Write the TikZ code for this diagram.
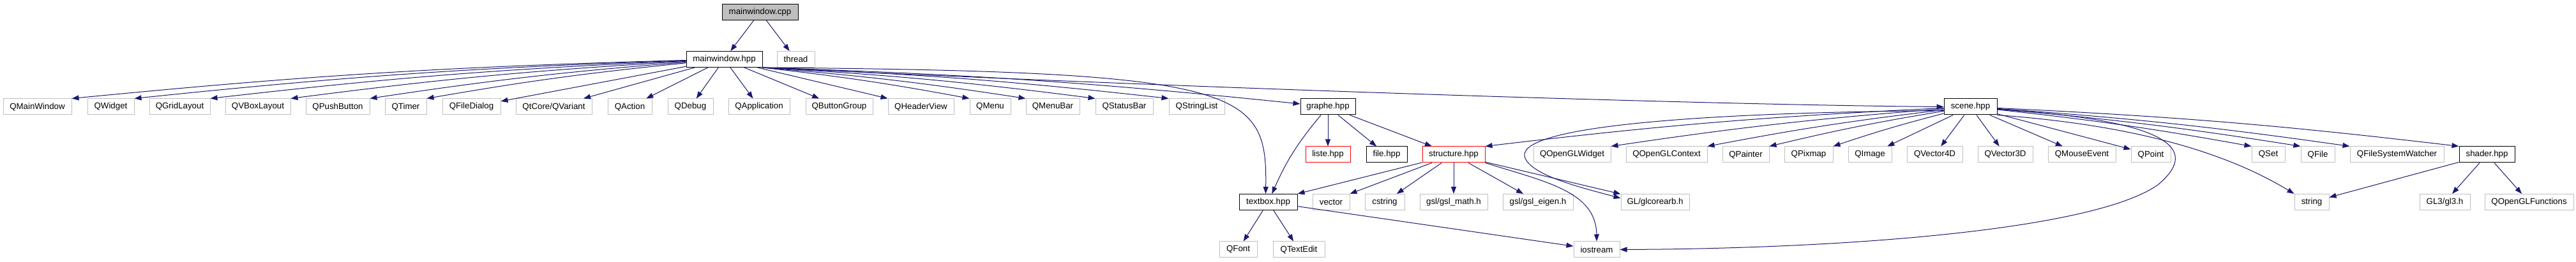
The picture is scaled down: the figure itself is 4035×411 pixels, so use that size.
\documentclass[tikz,border=0pt]{standalone}
\usepackage{fontspec}
\newfontfamily\depfont{Liberation Sans}
\usetikzlibrary{arrows.meta}
\definecolor{cblue}{HTML}{191970}
\definecolor{cgrey}{HTML}{BFBFBF}
\definecolor{cred}{HTML}{FF0000}
\tikzset{
  every picture/.style={font=\depfont\fontsize{13.3}{16}\selectfont, line width=1pt},
  hdr/.style={draw=#1, minimum height=25pt, inner sep=0pt},
  hdr/.default=black,
  ext/.style={hdr=cgrey},
  arrow/.style={-{Triangle[length=11pt, width=8pt]}, draw=cblue, line width=1pt},
}

\begin{document}
\begin{tikzpicture}[x=1pt, y=-1pt]
  \useasboundingbox (0,0) rectangle (4035,411);
  % top: the file itself and what it includes
  \node[hdr, fill=cgrey, minimum width=119pt] (mwcpp) at (1190.5,19) {mainwindow.cpp};
  \node[hdr, minimum width=119pt] (mwhpp) at (1134.5,93) {mainwindow.hpp};
  \node[ext, minimum width=59pt] (thread) at (1246.5,93) {thread};
  % second level
  \foreach \nm/\lab/\xl/\xr in {qmainwindow/QMainWindow/5/112, qwidget/QWidget/137/210,
      qgridlayout/QGridLayout/234/329, qvboxlayout/QVBoxLayout/353/455, qpushbutton/QPushButton/479/579,
      qtimer/QTimer/603/668, qfiledialog/QFileDialog/693/784, qvariant/{QtCore/QVariant}/808/927,
      qaction/QAction/952/1021, qdebug/QDebug/1046/1117, qapplication/QApplication/1141/1237,
      qbuttongroup/QButtonGroup/1262/1367, qheaderview/QHeaderView/1391/1494, qmenu/QMenu/1519/1583,
      qmenubar/QMenuBar/1607/1691, qstatusbar/QStatusBar/1716/1806, qstringlist/QStringList/1831/1918}
    \node[ext, minimum width={(\xr-\xl)*1pt}] (\nm) at ({(\xl+\xr)/2},167.5) {\lab};
  \node[hdr, minimum width=86pt] (graphe) at (2080,167.5) {graphe.hpp};
  \node[hdr, minimum width=83pt] (scene) at (3086.5,167.5) {scene.hpp};
  % third level
  \node[hdr=cred, minimum width=70pt] (liste) at (2080,242.5) {liste.hpp};
  \node[hdr, minimum width=64pt] (filehpp) at (2172,242.5) {file.hpp};
  \node[hdr=cred, minimum width=98pt] (structure) at (2277,242.5) {structure.hpp};
  \foreach \nm/\lab/\xl/\xr in {qopenglwidget/QOpenGLWidget/2402/2523, qopenglcontext/QOpenGLContext/2547/2674,
      qpainter/QPainter/2698/2771, qpixmap/QPixmap/2795/2871, qimage/QImage/2895/2963,
      qvector4d/QVector4D/2987/3074, qvector3d/QVector3D/3098/3184, qmouseevent/QMouseEvent/3208/3314,
      qpoint/QPoint/3338/3400, qset/QSet/3527/3579, qfile/QFile/3604/3657,
      qfswatcher/QFileSystemWatcher/3681/3828}
    \node[ext, minimum width={(\xr-\xl)*1pt}] (\nm) at ({(\xl+\xr)/2},242.5) {\lab};
  \node[hdr, minimum width=87pt] (shader) at (3895.5,242.5) {shader.hpp};
  % fourth level
  \node[hdr, minimum width=91pt] (textbox) at (1986.5,317) {textbox.hpp};
  \foreach \nm/\lab/\xl/\xr in {vector/vector/2056/2114, cstring/cstring/2138/2200,
      gslmath/{gsl/gsl\_math.h}/2224/2330, gsleigen/{gsl/gsl\_eigen.h}/2354/2464,
      glcorearb/{GL/glcorearb.h}/2539/2646, string/string/3594/3648, gl3/{GL3/gl3.h}/3790/3869,
      qopenglfunctions/QOpenGLFunctions/3892/4031}
    \node[ext, minimum width={(\xr-\xl)*1pt}] (\nm) at ({(\xl+\xr)/2},317) {\lab};
  % bottom
  \foreach \nm/\lab/\xl/\xr in {qfont/QFont/1910/1969, qtextedit/QTextEdit/1994/2075, iostream/iostream/2465/2537}
    \node[ext, minimum width={(\xr-\xl)*1pt}] (\nm) at ({(\xl+\xr)/2},391.5) {\lab};
  \coordinate (glbend) at (2388,245);
  \coordinate (iobend) at (3380,290);

  % mainwindow.cpp
  \draw[arrow] (mwcpp) -- (mwhpp);
  \draw[arrow] (mwcpp) -- (thread);
  % mainwindow.hpp, the right-hand ones pass under thread
  \foreach \nm in {qmainwindow, qwidget, qgridlayout, qvboxlayout, qpushbutton, qtimer}
    \draw[arrow] (mwhpp) to[bend right=2] (\nm.north east);
  \foreach \nm in {qfiledialog, qvariant, qaction, qdebug, qapplication, qbuttongroup}
    \draw[arrow] (mwhpp) -- (\nm);
  \draw[arrow] ([xshift=-8pt]mwhpp.south east) -- (qheaderview.north west);
  \foreach \nm in {qmenu, qmenubar, qstatusbar, qstringlist}
    \draw[arrow] (mwhpp.south east) to[bend left=2] (\nm.north west);
  \draw[arrow] (mwhpp.south east) to[bend left=2] (graphe);
  \draw[arrow] (mwhpp.south east) .. controls (1950,112) and (1985,140) .. ([xshift=-4pt]textbox.north);
  \draw[arrow] (mwhpp.south east) .. controls (1900,140) and (2700,165) .. (scene.west);
  % graphe.hpp
  \draw[arrow] (graphe) -- (liste);
  \draw[arrow] (graphe) -- (filehpp);
  \draw[arrow] (graphe) -- (structure);
  \draw[arrow] (graphe) to[bend right=8] (textbox);
  % structure.hpp
  \draw[arrow] (structure) -- (textbox.north east);
  \draw[arrow] (structure) -- (vector.north east);
  \foreach \nm in {cstring, gslmath, gsleigen, glcorearb} \draw[arrow] (structure) -- (\nm);
  \draw[arrow] (structure.south east) .. controls (2420,285) and (2500,300) .. (iostream.north);
  % scene.hpp
  \foreach \nm in {structure, qopenglwidget, qopenglcontext, qpainter, qpixmap}
    \draw[arrow] (scene) to[bend right=2] (\nm.north east);
  \foreach \nm in {qimage, qvector4d, qvector3d, qmouseevent, qpoint} \draw[arrow] (scene) -- (\nm);
  \foreach \nm in {qset, qfile, qfswatcher, shader}
    \draw[arrow] (scene) to[bend left=2] (\nm.north west);
  \draw[arrow] (scene.south east) .. controls (3330,195) and (3480,235) .. (string.north west);
  \draw[arrow] ([yshift=-6pt]scene.west) .. controls (2700,176) and (2380,195) .. (glbend)
    .. controls (2395,275) and (2480,295) .. ([yshift=6pt]glcorearb.west);
  \draw[arrow] ([yshift=-4pt]scene.east) .. controls (3420,190) and (3440,240) .. (iobend)
    .. controls (3280,360) and (2900,390) .. (iostream.east);
  % shader.hpp and textbox.hpp
  \foreach \nm in {string, gl3, qopenglfunctions} \draw[arrow] (shader) -- (\nm);
  \foreach \nm in {qfont, qtextedit, iostream} \draw[arrow] (textbox) -- (\nm);
\end{tikzpicture}
\end{document}
